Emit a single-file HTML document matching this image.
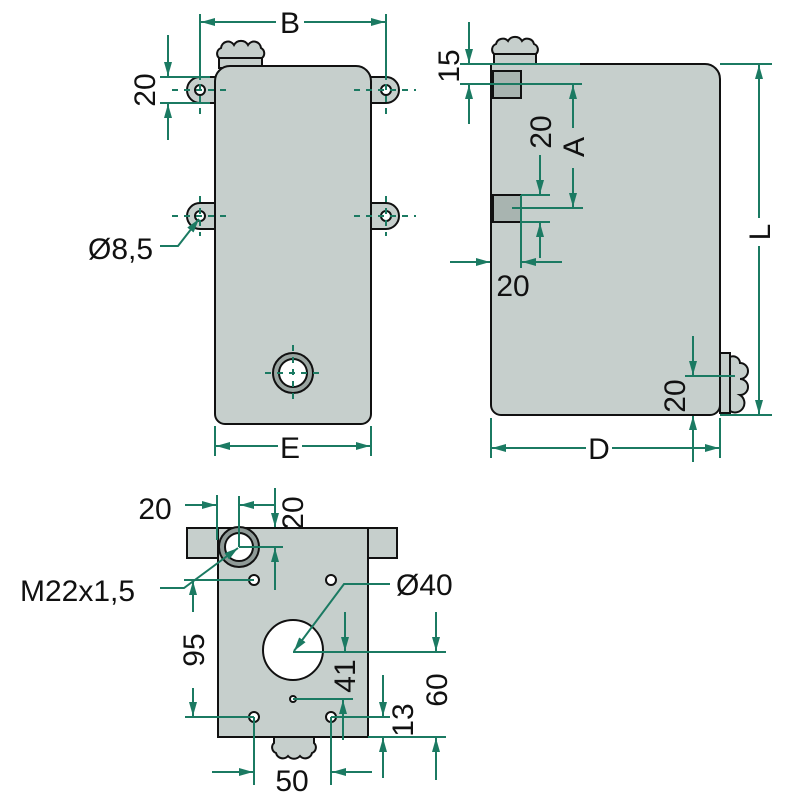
<!DOCTYPE html>
<html><head><style>body{margin:0;background:#fff}svg{display:block}text{font-family:"Liberation Sans",sans-serif;fill:#111}</style></head><body>
<svg width="800" height="800" viewBox="0 0 800 800" xmlns="http://www.w3.org/2000/svg">
<defs>
<marker id="a" viewBox="0 0 14 8" refX="14" refY="4" markerWidth="14" markerHeight="8" orient="auto-start-reverse" markerUnits="userSpaceOnUse"><path d="M0,0L14,4L0,8z" fill="#1b7a62"/></marker>
</defs>
<g stroke="#111" stroke-width="2" fill="#c6cfcc">
<!-- front view -->
<path d="M187,90a13,13 0 0 1 13,-13h16v26h-16a13,13 0 0 1 -13,-13z"/>
<path d="M399,90a13,13 0 0 0 -13,-13h-16v26h16a13,13 0 0 0 13,-13z"/>
<path d="M187,216a13,13 0 0 1 13,-13h16v26h-16a13,13 0 0 1 -13,-13z"/>
<path d="M399,216a13,13 0 0 0 -13,-13h-16v26h16a13,13 0 0 0 13,-13z"/>
<path d="M219,68 v-10 h43 v10z"/>
<path d="M219,58 a6,6 0 0 1 2,-10 a7,7 0 0 1 13,-3 a8,8 0 0 1 14,0 a7,7 0 0 1 13,3 a6,6 0 0 1 1,10z"/>
<path d="M230,66 H356 A15,15 0 0 1 371,81 V414 A10,10 0 0 1 361,424 H225 A10,10 0 0 1 215,414 V81 A15,15 0 0 1 230,66z"/>
<circle cx="200" cy="90" r="5" fill="#fff"/><circle cx="386" cy="90" r="5" fill="#fff"/>
<circle cx="200" cy="216" r="5" fill="#fff"/><circle cx="386" cy="216" r="5" fill="#fff"/>
<circle cx="293" cy="373" r="20" fill="#9aa5a1"/><circle cx="293" cy="373" r="14" fill="#fff"/>
<!-- side view -->
<path d="M494,64 v-10 h42 v10z"/>
<path d="M494,54 a6,6 0 0 1 2,-10 a7,7 0 0 1 12,-3 a8,8 0 0 1 14,0 a7,7 0 0 1 12,3 a6,6 0 0 1 2,10z"/>
<path d="M720,353 h10 v60 h-10z"/>
<path d="M730,357 a7,7 0 0 1 10,6 a8,8 0 0 1 0,16 a8,8 0 0 1 0,16 a7,7 0 0 1 -10,16z"/>
<path d="M491,64 H705 A15,15 0 0 1 720,79 V405 A10,10 0 0 1 710,415 H501 A10,10 0 0 1 491,405z"/>
<rect x="493" y="71" width="28" height="27" fill="#a8b4b0"/>
<rect x="493" y="195" width="28" height="27" fill="#a8b4b0"/>
<!-- bottom view -->
<rect x="187" y="528" width="210" height="30"/>
<rect x="218" y="528" width="150" height="209"/>
<path d="M274,737 h40 v6 a6,6 0 0 1 -2,10 a7,7 0 0 1 -12,3 a8,8 0 0 1 -12,0 a7,7 0 0 1 -12,-3 a6,6 0 0 1 -2,-10z"/>
<circle cx="239" cy="547" r="20" fill="#8f9a97"/><circle cx="239" cy="547" r="14" fill="#fff"/>
<circle cx="293" cy="650" r="30" fill="#fff"/>
<circle cx="254" cy="580" r="5" fill="#fff"/><circle cx="331" cy="580" r="5" fill="#fff"/>
<circle cx="254" cy="717" r="5" fill="#fff"/><circle cx="331" cy="717" r="5" fill="#fff"/>
<circle cx="293" cy="699" r="3" fill="#fff"/>
</g>
<g stroke="#1b7a62" stroke-width="2" fill="none">
<g stroke-dasharray="6,6">
<path d="M172,90H232M354,90H416M172,216H232M354,216H416M200,72V116M386,72V116M200,196V236M386,196V236M265,373H321M293,345V401"/>
</g>
<path d="M200,14V80M386,14V80"/>
<path d="M276,22H201" marker-end="url(#a)"/><path d="M304,22H385" marker-end="url(#a)"/>
<path d="M160,77H210M160,103H210"/>
<path d="M168,35V76" marker-end="url(#a)"/><path d="M168,140V104" marker-end="url(#a)"/>
<path d="M160,246L178,246L199,219" marker-end="url(#a)"/>
<path d="M215,426V456M371,426V456"/>
<path d="M278,446H216" marker-end="url(#a)"/><path d="M302,446H370" marker-end="url(#a)"/>
<path d="M460,64H580M460,84H582"/>
<path d="M469,22V63" marker-end="url(#a)"/><path d="M469,124V85" marker-end="url(#a)"/>
<path d="M573,128V85" marker-end="url(#a)"/><path d="M573,168V207" marker-end="url(#a)"/>
<path d="M512,208H583"/>
<path d="M521,195H550M521,222H550M521,195V268"/>
<path d="M540,155V194" marker-end="url(#a)"/><path d="M540,258V223" marker-end="url(#a)"/>
<path d="M450,262H490" marker-end="url(#a)"/><path d="M562,262H522" marker-end="url(#a)"/>
<path d="M720,64H772M720,415H772"/>
<path d="M759,218V65" marker-end="url(#a)"/><path d="M759,246V414" marker-end="url(#a)"/>
<path d="M491,418V458M720,418V458"/>
<path d="M586,448H492" marker-end="url(#a)"/><path d="M612,448H719" marker-end="url(#a)"/>
<path d="M685,376H735"/>
<path d="M693,336V375" marker-end="url(#a)"/><path d="M693,462V416" marker-end="url(#a)"/>
<path d="M217,495V540M239,496V547M239,547H283"/>
<path d="M185,505H216" marker-end="url(#a)"/><path d="M275,505H240" marker-end="url(#a)"/>
<path d="M275,488V527" marker-end="url(#a)"/><path d="M275,590V548" marker-end="url(#a)"/>
<path d="M160,588H184L238,548" marker-end="url(#a)"/><path d="M184,580H254"/>
<path d="M185,717H254"/>
<path d="M193,612V581" marker-end="url(#a)"/><path d="M193,688V716" marker-end="url(#a)"/>
<path d="M390,584H344L294,651" marker-end="url(#a)"/>
<path d="M293,652H446M293,699H353M331,717H390M368,737H446"/>
<path d="M345,612V651" marker-end="url(#a)"/><path d="M343,740V700" marker-end="url(#a)"/>
<path d="M436,612V651" marker-end="url(#a)"/><path d="M436,780V738" marker-end="url(#a)"/>
<path d="M383,675V716" marker-end="url(#a)"/><path d="M383,778V738" marker-end="url(#a)"/>
<path d="M254,717V785M331,717V785"/>
<path d="M212,772H253" marker-end="url(#a)"/><path d="M372,772H332" marker-end="url(#a)"/>
</g>
<g font-size="30">
<text x="290" y="33" text-anchor="middle">B</text>
<text transform="translate(155,90) rotate(-90)" text-anchor="middle">20</text>
<text x="88" y="259">Ø8,5</text>
<text x="290" y="458" text-anchor="middle">E</text>
<text transform="translate(459,66) rotate(-90)" text-anchor="middle">15</text>
<text transform="translate(584,147) rotate(-90)" text-anchor="middle">A</text>
<text transform="translate(551,132) rotate(-90)" text-anchor="middle">20</text>
<text x="513" y="296" text-anchor="middle">20</text>
<text transform="translate(770,232) rotate(-90)" text-anchor="middle">L</text>
<text x="599" y="459" text-anchor="middle">D</text>
<text transform="translate(685,396) rotate(-90)" text-anchor="middle">20</text>
<text x="155" y="519" text-anchor="middle">20</text>
<text transform="translate(303,513) rotate(-90)" text-anchor="middle">20</text>
<text x="20" y="601">M22x1,5</text>
<text transform="translate(204,650) rotate(-90)" text-anchor="middle">95</text>
<text x="396" y="595">Ø40</text>
<text transform="translate(355,676) rotate(-90)" text-anchor="middle">41</text>
<text transform="translate(447,690) rotate(-90)" text-anchor="middle">60</text>
<text transform="translate(413,720) rotate(-90)" text-anchor="middle">13</text>
<text x="292" y="791" text-anchor="middle">50</text>
</g>
</svg>
</body></html>
